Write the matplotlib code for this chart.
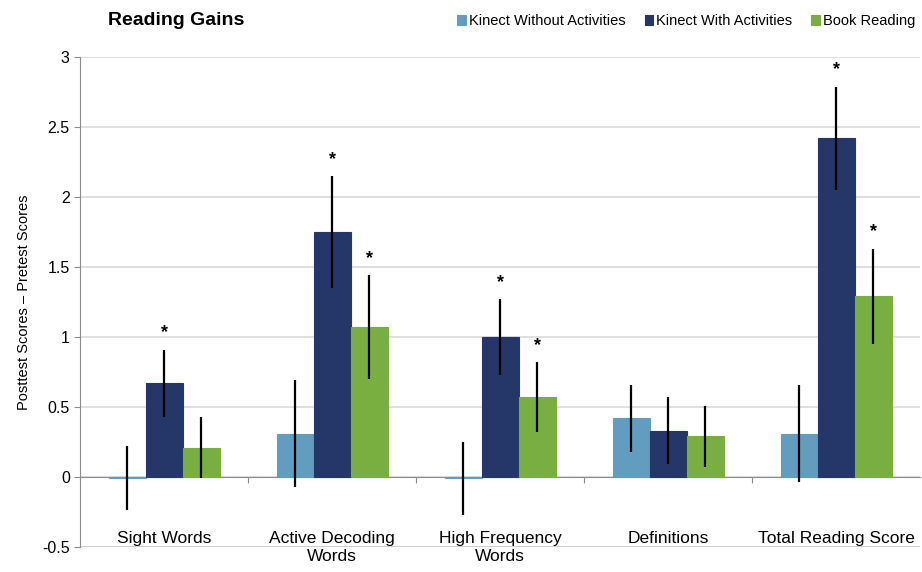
import numpy as np
import matplotlib.pyplot as plt

plt.rcParams['font.family'] = ['Liberation Sans', 'DejaVu Sans']

categories = ['Sight Words', 'Active Decoding\nWords', 'High Frequency\nWords', 'Definitions', 'Total Reading Score']
series = ['Kinect Without Activities', 'Kinect With Activities', 'Book Reading']
without_act = [-0.01, 0.31, -0.01, 0.42, 0.31]
without_err = [0.23, 0.38, 0.26, 0.24, 0.35]
with_act = [0.67, 1.75, 1.00, 0.33, 2.42]
with_err = [0.24, 0.40, 0.27, 0.24, 0.37]
book = [0.21, 1.07, 0.57, 0.29, 1.29]
book_err = [0.22, 0.37, 0.25, 0.22, 0.34]
# which bars carry a significance star
with_star = [True, True, True, False, True]
book_star = [False, True, True, False, True]

colors = ['#629dbf', '#253668', '#79ae41']

fig = plt.figure(figsize=(9.22, 5.72), dpi=100)
ax = fig.add_axes([0.087, 0.044, 0.911, 0.856])

x = np.arange(len(categories))
w = 0.22
vals = [without_act, with_act, book]
errs = [without_err, with_err, book_err]
for i in range(3):
    xi = x + (i - 1) * w
    ax.bar(xi, vals[i], w, color=colors[i], edgecolor=colors[i], linewidth=0.8,
           label=series[i], zorder=3)
    ax.errorbar(xi, vals[i], yerr=errs[i], fmt='none', ecolor='black',
                elinewidth=1.6, capsize=0, zorder=4)

for j in range(len(categories)):
    if with_star[j]:
        ax.text(x[j], with_act[j] + with_err[j] + 0.06, '*', ha='center', va='bottom',
                fontsize=13, fontweight='bold')
    if book_star[j]:
        ax.text(x[j] + w, book[j] + book_err[j] + 0.06, '*', ha='center', va='bottom',
                fontsize=13, fontweight='bold')

ax.set_ylim(-0.5, 3)
ax.set_xlim(-0.5, len(categories) - 0.5)
ax.set_yticks(np.arange(-0.5, 3.01, 0.5))
ax.set_yticklabels(['-0.5', '0', '0.5', '1', '1.5', '2', '2.5', '3'], fontsize=11.5)
ax.yaxis.grid(True, color='#d9d9d9', linewidth=1.2, zorder=0)
ax.set_axisbelow(True)

ax.spines['top'].set_visible(False)
ax.spines['right'].set_visible(False)
ax.spines['left'].set_color('#8c8c8c')
ax.spines['bottom'].set_position(('data', 0))
ax.spines['bottom'].set_color('#8c8c8c')
ax.spines['bottom'].set_zorder(2)
ax.tick_params(axis='y', color='#8c8c8c', length=4)
ax.set_xticks(np.arange(0.5, len(categories) - 0.5, 1))
ax.set_xticklabels([])
ax.tick_params(axis='x', color='#8c8c8c', length=4, direction='out')
ax.axhline(-0.5, color='#cfcfcf', linewidth=1.2, zorder=1)

for j, c in enumerate(categories):
    ax.text(x[j], -0.385, c, ha='center', va='top', fontsize=12.5, linespacing=1.25)

ax.set_ylabel('Posttest Scores – Pretest Scores', fontsize=10.5, labelpad=8)

fig.text(0.117, 0.965, 'Reading Gains', fontsize=14, fontweight='bold', va='center')
ax.legend(loc='upper right', bbox_to_anchor=(1.01, 1.115), ncol=3, frameon=False,
          fontsize=10.5, handlelength=0.6, handleheight=0.6, handletextpad=0.2,
          columnspacing=1.3)

fig.savefig('out.png', dpi=100)
